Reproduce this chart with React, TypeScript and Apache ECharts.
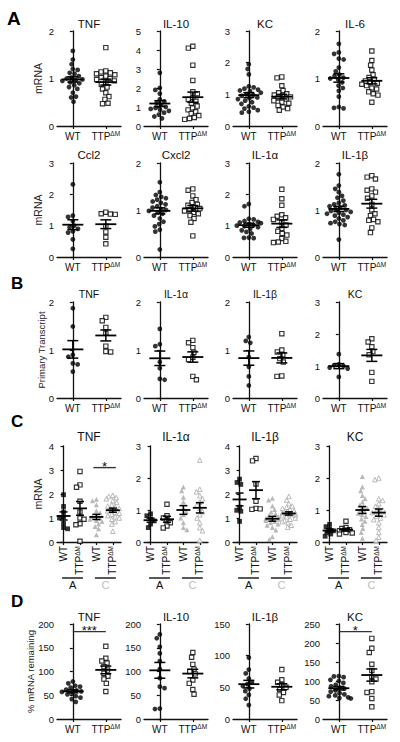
import React, { useEffect, useRef } from "react";
import * as echarts from "echarts";

const FONT = "'Liberation Sans', Arial, Helvetica, sans-serif";
const INK = "#111111";
const GREY = "#a8a8a8";

// ---------- Panel A, row 1 ----------
const aTnfWT = [1.58, 1.4, 1.3, 1.2, 1.18, 1.12, 1.1, 1.05, 1.02, 1.0, 0.98, 0.97, 0.95, 0.92, 0.9, 0.86, 0.82, 0.78, 0.7, 0.62, 0.6, 0.51];
const aTnfTTP = [1.65, 1.16, 1.14, 1.12, 1.1, 1.08, 1.05, 1.02, 1.0, 0.98, 0.95, 0.92, 0.88, 0.82, 0.78, 0.7, 0.62, 0.56, 0.48, 0.47];
const aIl10WT = [2.8, 2.0, 1.9, 1.7, 1.4, 1.3, 1.2, 1.1, 1.0, 0.95, 0.9, 0.85, 0.8, 0.7, 0.6, 0.5, 0.4];
const aIl10TTP = [4.2, 4.1, 3.2, 2.4, 1.8, 1.7, 1.5, 1.4, 1.3, 1.2, 1.05, 0.95, 0.85, 0.75, 0.65, 0.55, 0.45, 0.4, 0.35];
const aKcWT = [1.95, 1.8, 1.63, 1.25, 1.22, 1.18, 1.15, 1.12, 1.1, 1.05, 1.0, 0.98, 0.95, 0.9, 0.88, 0.85, 0.8, 0.75, 0.7, 0.62, 0.58, 0.55, 0.5, 0.45, 0.42];
const aKcTTP = [1.55, 1.52, 1.27, 1.12, 1.05, 1.02, 0.98, 0.95, 0.92, 0.88, 0.85, 0.8, 0.75, 0.72, 0.65, 0.6, 0.55, 0.5];
const aIl6WT = [1.73, 1.55, 1.52, 1.42, 1.4, 1.23, 1.15, 1.08, 1.05, 1.02, 1.0, 0.98, 0.92, 0.85, 0.8, 0.74, 0.62, 0.4, 0.38, 0.37];
const aIl6TTP = [1.58, 1.38, 1.28, 1.18, 1.08, 1.02, 0.98, 0.95, 0.92, 0.9, 0.88, 0.85, 0.8, 0.78, 0.72, 0.68, 0.65, 0.5];
// ---------- Panel A, row 2 ----------
const aCcl2WT = [2.32, 1.32, 1.28, 1.15, 1.0, 0.95, 0.9, 0.82, 0.78, 0.56, 0.26];
const aCcl2TTP = [1.43, 1.38, 1.37, 1.36, 0.98, 0.8, 0.63, 0.42];
const aCxcl2WT = [1.59, 1.38, 1.32, 1.28, 1.25, 1.22, 1.18, 1.15, 1.12, 1.08, 1.05, 1.02, 1.0, 0.98, 0.95, 0.92, 0.88, 0.82, 0.75, 0.7, 0.65, 0.58, 0.54, 0.16];
const aCxcl2TTP = [1.45, 1.42, 1.3, 1.22, 1.16, 1.12, 1.1, 1.06, 1.03, 1.0, 0.98, 0.95, 0.92, 0.88, 0.82, 0.74, 0.45];
const aIl1aWT = [1.69, 1.62, 1.22, 1.2, 1.15, 1.12, 1.1, 1.08, 1.05, 1.02, 1.0, 0.98, 0.95, 0.9, 0.85, 0.8, 0.75, 0.62, 0.61, 0.6];
const aIl1aTTP = [2.16, 1.86, 1.65, 1.35, 1.3, 1.25, 1.2, 1.1, 1.02, 0.91, 0.82, 0.75, 0.7, 0.59, 0.5, 0.48, 0.46];
const aIl1bWT = [1.76, 1.52, 1.45, 1.38, 1.3, 1.26, 1.2, 1.15, 1.12, 1.1, 1.08, 1.05, 1.02, 1.0, 0.98, 0.96, 0.94, 0.92, 0.9, 0.88, 0.85, 0.82, 0.78, 0.75, 0.72, 0.7, 0.68, 0.37];
const aIl1bTTP = [1.73, 1.7, 1.66, 1.45, 1.42, 1.38, 1.3, 1.25, 1.12, 1.0, 0.92, 0.88, 0.8, 0.78, 0.75, 0.62, 0.52];
// ---------- Panel B ----------
const bTnfWT = [1.87, 1.49, 0.9, 0.86, 0.72, 0.7, 0.55];
const bTnfTTP = [1.68, 1.61, 1.47, 1.35, 1.08, 0.97, 0.96];
const bIl1aWT = [1.44, 1.12, 1.08, 0.75, 0.62, 0.4, 0.38];
const bIl1aTTP = [1.2, 1.15, 1.05, 0.95, 0.85, 0.8, 0.45, 0.38];
const bIl1bWT = [1.27, 1.19, 1.15, 0.85, 0.65, 0.45, 0.26];
const bIl1bTTP = [1.34, 1.0, 0.96, 0.9, 0.82, 0.75, 0.46, 0.45];
const bKcWT = [1.37, 1.05, 1.02, 1.0, 0.95, 0.92, 0.66];
const bKcTTP = [1.85, 1.75, 1.6, 1.45, 1.35, 0.8, 0.52];
// ---------- Panel C (groups: WT A, TTP A, WT C, TTP C) ----------
const cTnfWTA = [1.97, 1.48, 1.25, 1.05, 1.0, 0.78, 0.6, 0.55];
const cTnfTTPA = [2.94, 2.38, 2.28, 1.7, 1.25, 1.0, 0.95, 0.76, 0.72, 0.03];
const cTnfWTC = [1.78, 1.72, 1.55, 1.3, 1.22, 1.1, 1.05, 1.0, 0.95, 0.9, 0.85, 0.75, 0.65, 0.55, 0.3];
const cTnfTTPC = [1.95, 1.9, 1.85, 1.8, 1.72, 1.65, 1.55, 1.5, 1.45, 1.4, 1.35, 1.3, 1.25, 1.2, 1.15, 1.1, 1.05, 1.0, 0.95, 0.85, 0.75, 0.45];
const cIl1aWTA = [0.88, 0.82, 0.72, 0.66, 0.56, 0.45];
const cIl1aTTPA = [1.18, 0.82, 0.75, 0.68, 0.6, 0.5, 0.44];
const cIl1aWTC = [1.72, 1.6, 1.4, 1.25, 1.05, 0.95, 0.85, 0.75, 0.6, 0.45, 0.38];
const cIl1aTTPC = [2.56, 1.65, 1.57, 1.45, 1.35, 1.25, 1.15, 1.05, 0.95, 0.85, 0.75, 0.6, 0.45, 0.35, 0.05];
const cIl1bWTA = [2.62, 2.48, 2.4, 1.45, 1.32, 1.28, 0.86];
const cIl1bTTPA = [3.48, 3.38, 2.42, 1.7, 1.4, 1.38, 1.36];
const cIl1bWTC = [1.82, 1.75, 1.5, 1.35, 1.25, 1.18, 1.1, 1.05, 1.0, 0.98, 0.95, 0.9, 0.85, 0.8, 0.75, 0.7, 0.6, 0.5, 0.22, 0.1];
const cIl1bTTPC = [1.9, 1.75, 1.6, 1.5, 1.45, 1.4, 1.35, 1.3, 1.25, 1.22, 1.2, 1.18, 1.15, 1.12, 1.1, 1.05, 1.0, 0.95, 0.9, 0.85, 0.8, 0.7, 0.62];
const cKcWTA = [0.55, 0.48, 0.4, 0.35, 0.3, 0.25, 0.18];
const cKcTTPA = [0.65, 0.45, 0.42, 0.38, 0.35, 0.3, 0.28, 0.25];
const cKcWTC = [2.05, 1.72, 1.6, 1.45, 1.35, 1.25, 1.15, 1.1, 1.05, 1.0, 0.95, 0.9, 0.85, 0.8, 0.72, 0.65, 0.55, 0.42, 0.3, 0.12];
const cKcTTPC = [2.0, 1.95, 1.35, 1.3, 1.2, 1.12, 1.05, 1.0, 0.95, 0.92, 0.88, 0.85, 0.8, 0.75, 0.7, 0.6, 0.45, 0.3, 0.15, 0.05];
// ---------- Panel D (% mRNA remaining) ----------
const dTnfWT = [79, 75, 70, 68, 66, 62, 60, 58, 57, 55, 52, 48, 45, 42, 36];
const dTnfTTP = [153, 128, 122, 118, 110, 103, 96, 90, 84, 75, 58];
const dIl10WT = [178, 170, 152, 138, 122, 105, 86, 68, 65, 22, 21];
const dIl10TTP = [140, 130, 115, 105, 100, 95, 82, 75, 62, 52];
const dIl1bWT = [97, 78, 72, 64, 58, 55, 52, 48, 44, 38, 32, 22];
const dIl1bTTP = [78, 62, 58, 54, 50, 47, 42, 38, 29];
const dKcWT = [113, 112, 110, 103, 100, 95, 90, 86, 82, 80, 75, 72, 68, 65, 62, 60, 57, 55, 54];
const dKcTTP = [212, 186, 175, 144, 128, 112, 105, 98, 72, 70, 54, 32];

// ---------- titles, axis ranges, labels ----------
const titlesA1 = ["TNF", "IL-10", "KC", "IL-6"];
const ymaxA1 = [2, 5, 3, 2];
const titlesA2 = ["Ccl2", "Cxcl2", "IL-1α", "IL-1β"];
const ymaxA2 = [3, 2, 3, 2];
const titlesB = ["TNF", "IL-1α", "IL-1β", "KC"];
const ymaxB = [2, 2, 2, 3];
const titlesC = ["TNF", "IL-1α", "IL-1β", "KC"];
const ymaxC = [4, 3, 4, 3];
const titlesD = ["TNF", "IL-10", "IL-1β", "KC"];
const ymaxD = [200, 200, 150, 250];
const stepD = 50;
const groupLabels2 = ["WT", "TTPΔM"];
const groupLabels4 = ["WT", "TTPΔM", "WT", "TTPΔM"];
const bracketLabels = ["A", "C"];
const yNames = ["mRNA", "mRNA", "Primary Transcript", "mRNA", "% mRNA remaining"];
const panelLetters = ["A", "B", "C", "D"];
// significance: [panelColumn, groupFrom, groupTo, yValue, text]
const sigC: [number, number, number, number, string][] = [[0, 2, 3, 3.1, "*"]];
const sigD: [number, number, number, number, string][] = [
  [0, 0, 1, 184, "***"],
  [3, 0, 1, 230, "*"],
];

// ---------- layout ----------
const LEFTS = [57, 144, 233, 323];
const GW = 64;
const ROWS = [
  { top: 31, h: 95, titleY: 24, titleSize: 11.5, nameX: 38, nameSize: 10.5 },
  { top: 163, h: 94, titleY: 155, titleSize: 11.5, nameX: 38, nameSize: 10.5 },
  { top: 302, h: 96, titleY: 294, titleSize: 10.5, nameX: 41, nameSize: 9.5 },
  { top: 446, h: 96, titleY: 437, titleSize: 12, nameX: 38, nameSize: 10.5 },
  { top: 624, h: 95, titleY: 617, titleSize: 11.5, nameX: 30, nameSize: 9.5 },
];

function mean(a: number[]) {
  return a.reduce((s, v) => s + v, 0) / a.length;
}
function sem(a: number[]) {
  const m = mean(a);
  const v = a.reduce((s, x) => s + (x - m) * (x - m), 0) / (a.length - 1);
  return Math.sqrt(v / a.length);
}
// beeswarm offsets (pixels) computed from the values
function swarm(vals: number[], pxY: number, d: number, cap: number) {
  const order = vals.map((_, i) => i).sort((a, b) => vals[b] - vals[a]);
  const placed: { x: number; y: number }[] = [];
  const res = new Array(vals.length).fill(0);
  let flip = 1;
  for (const i of order) {
    const y = vals[i] * pxY;
    const ivs: [number, number][] = [];
    for (const p of placed) {
      const dy = Math.abs(p.y - y);
      if (dy < d) {
        const w = Math.sqrt(d * d - dy * dy);
        ivs.push([p.x - w, p.x + w]);
      }
    }
    const cands = [0];
    ivs.forEach(([a, b]) => cands.push(a, b));
    cands.sort((a, b) => Math.abs(a) - Math.abs(b) || (a - b) * flip);
    let x = 0;
    for (const c of cands) {
      if (ivs.every(([a, b]) => c <= a + 1e-6 || c >= b - 1e-6)) {
        x = c;
        break;
      }
    }
    if (x !== 0) flip = -flip;
    x = Math.max(-cap, Math.min(cap, x));
    placed.push({ x, y });
    res[i] = x;
  }
  return res;
}

function fmtLabel(s: string) {
  if (s.indexOf("ΔM") >= 0) return "{t|" + s.replace("ΔM", "") + "}{s|ΔM}";
  return "{t|" + s + "}";
}

type Kind = "dot" | "sq" | "fsq" | "tri" | "otri";
function symbolFor(kind: Kind) {
  switch (kind) {
    case "dot":
      return { symbol: "circle", symbolSize: 4.8, itemStyle: { color: "#000" } };
    case "sq":
      return { symbol: "rect", symbolSize: 4.3, itemStyle: { color: "#fff", borderColor: "#000", borderWidth: 1.15 } };
    case "fsq":
      return { symbol: "rect", symbolSize: 4.8, itemStyle: { color: "#000" } };
    case "tri":
      return { symbol: "triangle", symbolSize: 5, itemStyle: { color: GREY } };
    default:
      return { symbol: "triangle", symbolSize: 4.6, itemStyle: { color: "#fff", borderColor: GREY, borderWidth: 1 } };
  }
}

function buildOption() {
  const grid: any[] = [];
  const xAxis: any[] = [];
  const yAxis: any[] = [];
  const series: any[] = [];
  const graphic: any[] = [];

  const rowsData: { groups: number[][][]; titles: string[]; ymax: number[]; step: number; four: boolean; sig?: any[] }[] = [
    { groups: [[aTnfWT, aTnfTTP], [aIl10WT, aIl10TTP], [aKcWT, aKcTTP], [aIl6WT, aIl6TTP]], titles: titlesA1, ymax: ymaxA1, step: 1, four: false },
    { groups: [[aCcl2WT, aCcl2TTP], [aCxcl2WT, aCxcl2TTP], [aIl1aWT, aIl1aTTP], [aIl1bWT, aIl1bTTP]], titles: titlesA2, ymax: ymaxA2, step: 1, four: false },
    { groups: [[bTnfWT, bTnfTTP], [bIl1aWT, bIl1aTTP], [bIl1bWT, bIl1bTTP], [bKcWT, bKcTTP]], titles: titlesB, ymax: ymaxB, step: 1, four: false },
    {
      groups: [
        [cTnfWTA, cTnfTTPA, cTnfWTC, cTnfTTPC],
        [cIl1aWTA, cIl1aTTPA, cIl1aWTC, cIl1aTTPC],
        [cIl1bWTA, cIl1bTTPA, cIl1bWTC, cIl1bTTPC],
        [cKcWTA, cKcTTPA, cKcWTC, cKcTTPC],
      ],
      titles: titlesC,
      ymax: ymaxC,
      step: 1,
      four: true,
      sig: sigC,
    },
    { groups: [[dTnfWT, dTnfTTP], [dIl10WT, dIl10TTP], [dIl1bWT, dIl1bTTP], [dKcWT, dKcTTP]], titles: titlesD, ymax: ymaxD, step: stepD, four: false, sig: sigD },
  ];

  const rich = {
    t: { fontSize: 10, fontFamily: FONT, color: INK, lineHeight: 12 },
    s: { fontSize: 6.5, fontFamily: FONT, color: INK, lineHeight: 7, verticalAlign: "top" },
  };

  let idx = 0;
  rowsData.forEach((row, r) => {
    const R = ROWS[r];
    row.groups.forEach((groups, c) => {
      const i = idx++;
      const left = LEFTS[c];
      const four = row.four;
      const xmin = four ? -0.4 : -0.48;
      const xmax = four ? 3.5 : 1.46;
      const pos = groups.map((_, k) => k);
      const labels = four ? groupLabels4 : groupLabels2;
      const ymax = row.ymax[c];
      const pxY = R.h / ymax;
      const pxX = GW / (xmax - xmin);

      grid.push({ left, top: R.top, width: GW, height: R.h });
      xAxis.push({
        type: "value",
        gridIndex: i,
        min: xmin,
        max: xmax,
        splitLine: { show: false },
        axisLine: { show: true, onZero: false, lineStyle: { color: INK, width: 1.3 } },
        axisTick: { show: true, length: 3, customValues: pos, lineStyle: { color: INK, width: 1.2 } },
        axisLabel: {
          show: true,
          customValues: pos,
          rotate: four ? 90 : 0,
          margin: 4,
          formatter: (v: number) => fmtLabel(labels[Math.round(v)] || ""),
          rich,
        },
      });
      yAxis.push({
        type: "value",
        gridIndex: i,
        min: 0,
        max: ymax,
        interval: row.step,
        splitLine: { show: false },
        axisLine: { show: true, lineStyle: { color: INK, width: 1.3 } },
        axisTick: { show: true, length: 3, lineStyle: { color: INK, width: 1.2 } },
        axisLabel: { fontSize: 9.5, fontFamily: FONT, color: INK, margin: 3 },
      });

      if (c === 0) {
        graphic.push({
          type: "text",
          x: R.nameX,
          y: R.top + R.h / 2,
          rotation: Math.PI / 2,
          silent: true,
          style: {
            text: yNames[r],
            fontSize: R.nameSize,
            fontFamily: FONT,
            fill: "#222222",
            align: "center",
            verticalAlign: "middle",
            textAlign: "center",
            textVerticalAlign: "middle",
          },
        });
      }

      // points
      groups.forEach((vals, k) => {
        let kind: Kind;
        if (four) kind = (["fsq", "sq", "tri", "otri"] as Kind[])[k];
        else kind = k === 0 ? "dot" : "sq";
        const d = four ? 4.2 : 4.9;
        const cap = four ? 6.5 : 12;
        const offs = swarm(vals, pxY, d, cap);
        series.push({
          type: "scatter",
          xAxisIndex: i,
          yAxisIndex: i,
          silent: true,
          z: kind === "tri" || kind === "otri" ? 2 : 3,
          ...symbolFor(kind),
          data: vals.map((v, j) => [k + offs[j] / pxX, v]),
        });
      });

      // mean ± SEM
      const hw = four ? 7 : 10.5;
      const cw = four ? 4 : 5.5;
      series.push({
        type: "custom",
        xAxisIndex: i,
        yAxisIndex: i,
        silent: true,
        z: 10,
        data: groups.map((g, k) => [k, mean(g), sem(g)]),
        renderItem: (_p: any, api: any) => {
          const x = api.value(0);
          const m = api.value(1);
          const s = api.value(2);
          const pm = api.coord([x, m]);
          const pt = api.coord([x, m + s]);
          const pb = api.coord([x, Math.max(0, m - s)]);
          const st = { stroke: "#000", lineWidth: 1.5 };
          return {
            type: "group",
            children: [
              { type: "line", shape: { x1: pm[0] - hw, y1: pm[1], x2: pm[0] + hw, y2: pm[1] }, style: { stroke: "#000", lineWidth: 1.8 } },
              { type: "line", shape: { x1: pt[0], y1: pt[1], x2: pb[0], y2: pb[1] }, style: st },
              { type: "line", shape: { x1: pt[0] - cw, y1: pt[1], x2: pt[0] + cw, y2: pt[1] }, style: st },
              { type: "line", shape: { x1: pb[0] - cw, y1: pb[1], x2: pb[0] + cw, y2: pb[1] }, style: st },
            ],
          };
        },
      });

      // significance bars
      const sigs = (row.sig || []).filter((s: any) => s[0] === c);
      if (sigs.length) {
        series.push({
          type: "custom",
          xAxisIndex: i,
          yAxisIndex: i,
          silent: true,
          z: 10,
          data: sigs.map((s: any) => [s[1], s[2], s[3]]),
          renderItem: (p: any, api: any) => {
            const a = api.coord([api.value(0), api.value(2)]);
            const b = api.coord([api.value(1), api.value(2)]);
            const ext = four ? 3 : 0;
            return {
              type: "group",
              children: [
                { type: "line", shape: { x1: a[0] - ext, y1: a[1], x2: b[0] + ext, y2: b[1] }, style: { stroke: "#333", lineWidth: 1.4 } },
                {
                  type: "text",
                  style: {
                    text: sigs[p.dataIndex][4],
                    x: (a[0] + b[0]) / 2,
                    y: a[1] + 5,
                    align: "center",
                    verticalAlign: "bottom",
                    textAlign: "center",
                    textVerticalAlign: "bottom",
                    fontSize: 13,
                    fontFamily: FONT,
                    fill: INK,
                  },
                },
              ],
            };
          },
        });
      }

      // brackets under panel C
      if (four) {
        series.push({
          type: "custom",
          xAxisIndex: i,
          yAxisIndex: i,
          silent: true,
          z: 10,
          clip: false,
          data: [
            [0, 1, 0],
            [2, 3, 1],
          ],
          renderItem: (p: any, api: any) => {
            const a = api.coord([api.value(0), 0]);
            const b = api.coord([api.value(1), 0]);
            const k = api.value(2);
            const y = a[1] + 36;
            const col = k === 0 ? INK : "#bdbdbd";
            return {
              type: "group",
              children: [
                { type: "line", shape: { x1: a[0] - 1.5, y1: y, x2: b[0] + 3, y2: y }, style: { stroke: INK, lineWidth: 1.4 } },
                {
                  type: "text",
                  style: {
                    text: bracketLabels[k],
                    x: (a[0] + b[0]) / 2 + 1,
                    y: y + 7,
                    align: "center",
                    verticalAlign: "middle",
                    textAlign: "center",
                    textVerticalAlign: "middle",
                    fontSize: 11,
                    fontFamily: FONT,
                    fill: col,
                  },
                },
              ],
            };
          },
        });
      }

      // subplot title
      graphic.push({
        type: "text",
        x: left + GW / 2,
        y: R.titleY,
        silent: true,
        style: {
          text: row.titles[c],
          fontSize: R.titleSize,
          fontFamily: FONT,
          fill: INK,
          align: "center",
          verticalAlign: "middle",
          textAlign: "center",
          textVerticalAlign: "middle",
        },
      });
    });
  });

  // panel letters
  const letterPos = [
    [7, 18.5, 19],
    [11, 283, 17],
    [11, 421.5, 17],
    [11, 601.5, 17],
  ];
  panelLetters.forEach((L, k) => {
    graphic.push({
      type: "text",
      x: letterPos[k][0],
      y: letterPos[k][1],
      silent: true,
      style: {
        text: L,
        fontSize: letterPos[k][2],
        fontWeight: "bold",
        fontFamily: FONT,
        fill: "#000",
        align: "left",
        verticalAlign: "middle",
        textAlign: "left",
        textVerticalAlign: "middle",
      },
    });
  });

  return {
    animation: false,
    backgroundColor: "#ffffff",
    textStyle: { fontFamily: FONT },
    grid,
    xAxis,
    yAxis,
    series,
    graphic,
  };
}

export default function App() {
  const ref = useRef<HTMLDivElement>(null);
  useEffect(() => {
    document.body.style.margin = "0";
    if (!ref.current) return;
    const chart = echarts.init(ref.current, undefined, { renderer: "svg" });
    chart.setOption(buildOption() as any);
    return () => chart.dispose();
  }, []);
  return <div ref={ref} style={{ width: 400, height: 742 }} />;
}
